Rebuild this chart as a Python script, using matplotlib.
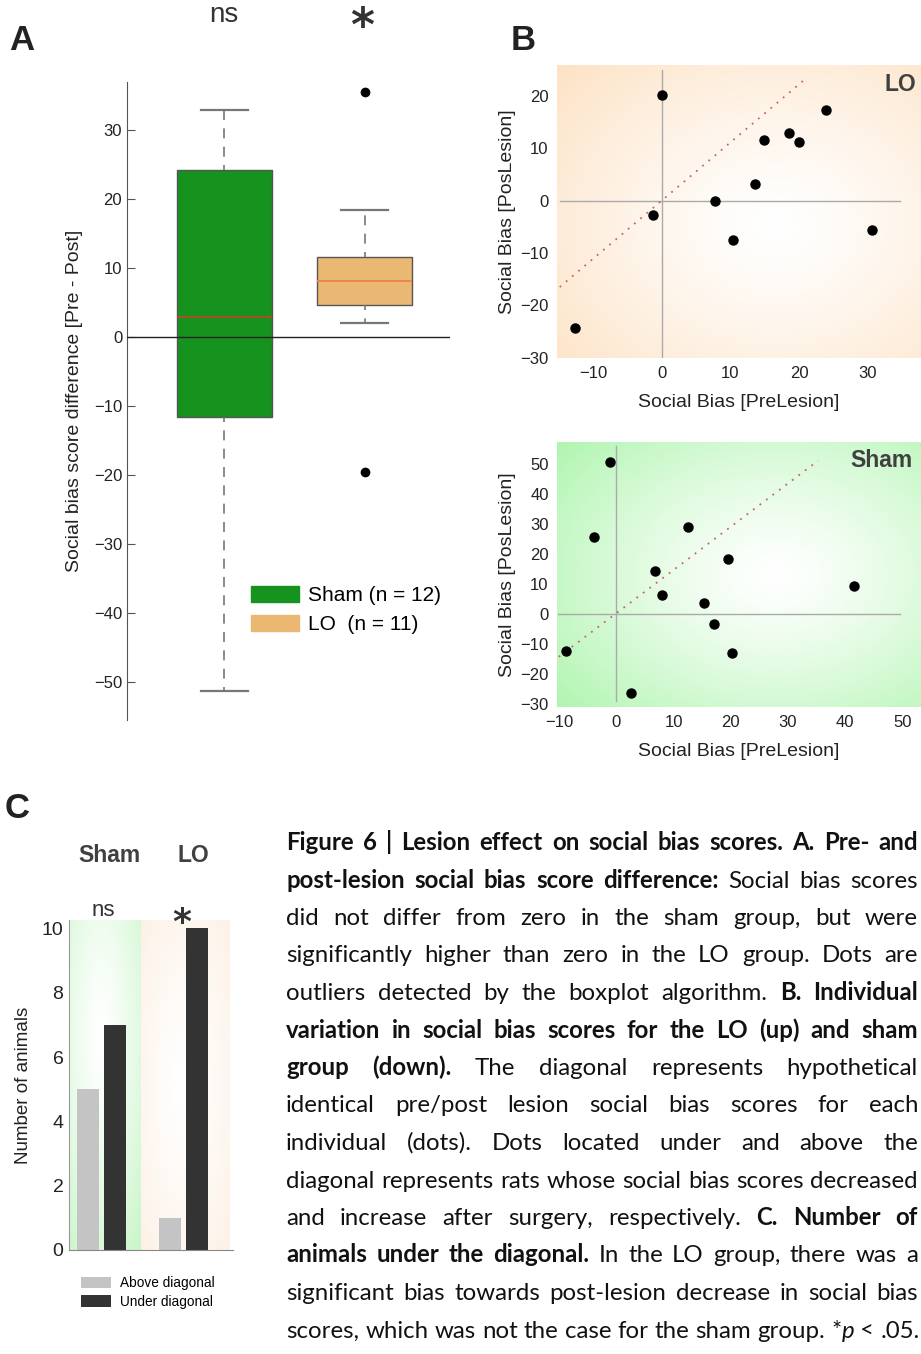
import matplotlib
matplotlib.use("Agg")
import matplotlib.pyplot as plt
import numpy as np
from matplotlib.patches import Patch

# ---------------- data ----------------
groups = ["Sham", "LO"]
legend_labels = ["Sham (n = 12)", "LO  (n = 11)"]
sig_marks = ["ns", "*"]

# A: pre - post difference, box statistics
box_med = [2.9, 8.1]
box_q1 = [-11.5, 4.7]
box_q3 = [24.3, 11.6]
box_whislo = [-51.3, 2.0]
box_whishi = [32.9, 18.4]
box_fliers = [[], [35.5, -19.5]]

# B: individual scores
lo_pre = [0.0, 24.0, 18.5, 20.0, 14.9, 13.6, 7.7, -1.3, 10.4, 30.7, -12.7]
lo_post = [20.1, 17.3, 12.9, 11.1, 11.5, 3.2, 0.0, -2.8, -7.5, -5.7, -24.3]
sham_pre = [-1.2, -4.0, 12.5, 19.5, 6.8, 8.0, 15.3, 41.5, 17.0, -8.9, 20.2, 2.6]
sham_post = [50.8, 25.6, 29.1, 18.3, 14.2, 6.4, 3.7, 9.3, -3.3, -12.3, -13.0, -26.3]
lo_diag_x = [-14.9, 20.9]
lo_diag_y = [-16.5, 23.2]
sham_diag_x = [-10.1, 35.3]
sham_diag_y = [-14.2, 51.1]

# C: counts
above_diag = [5, 1]
under_diag = [7, 10]

caption = [
    [("Figure 6 | Lesion effect on social bias scores. A. Pre- and", "bold")],
    [("post-lesion social bias score difference:", "bold"), (" Social bias scores", "normal")],
    [("did not differ from zero in the sham group, but were", "normal")],
    [("significantly higher than zero in the LO group. Dots are", "normal")],
    [("outliers detected by the boxplot algorithm.", "normal"), (" B. Individual", "bold")],
    [("variation in social bias scores for the LO (up) and sham", "bold")],
    [("group (down).", "bold"), (" The diagonal represents hypothetical", "normal")],
    [("identical pre/post lesion social bias scores for each", "normal")],
    [("individual (dots). Dots located under and above the", "normal")],
    [("diagonal represents rats whose social bias scores decreased", "normal")],
    [("and increase after surgery, respectively.", "normal"), (" C. Number of", "bold")],
    [("animals under the diagonal.", "bold"), (" In the LO group, there was a", "normal")],
    [("significant bias towards post-lesion decrease in social bias", "normal")],
    [("scores, which was not the case for the sham group. *", "normal"), ("p", "italic"), (" < .05.", "normal")],
]

# ---------------- style ----------------
W, H = 921, 1354
plt.rcParams["font.family"] = ["Liberation Sans", "DejaVu Sans"]
GREEN = "#16921f"
ORANGE = "#ebb874"
TXT = "#333333"

fig = plt.figure(figsize=(W / 100, H / 100), dpi=100)


def px_axes(x0, y0, x1, y1):
    return fig.add_axes([x0 / W, 1 - y1 / H, (x1 - x0) / W, (y1 - y0) / H])


def ftext(x, y, s, **kw):
    return fig.text(x / W, 1 - y / H, s, **kw)


def radial_bg(ax, edge, cx, cy, extent, transform=None, power=1.3):
    n = 200
    yy, xx = np.mgrid[0:1:n * 1j, 0:1:n * 1j]
    d = np.sqrt((xx - cx) ** 2 + (yy - cy) ** 2)
    d = np.clip(d / d.max(), 0, 1) ** power
    edge = np.array(matplotlib.colors.to_rgb(edge))
    img = (1 - d)[..., None] * np.ones(3) + d[..., None] * edge
    kw = dict(extent=extent, origin="lower", aspect="auto", zorder=0,
              interpolation="bilinear")
    if transform is not None:
        kw["transform"] = transform
    ax.imshow(img, **kw)


# ---------------- panel A ----------------
axA = px_axes(127, 82, 450, 720)
stats = []
for i in range(2):
    stats.append(dict(med=box_med[i], q1=box_q1[i], q3=box_q3[i],
                      whislo=box_whislo[i], whishi=box_whishi[i],
                      fliers=box_fliers[i]))
bp = axA.bxp(stats, positions=[1, 2], widths=0.68, capwidths=0.34,
             patch_artist=True, showfliers=True,
             boxprops=dict(edgecolor="#555555", linewidth=1),
             whiskerprops=dict(color="#777777", linestyle=(3, (6, 5)), linewidth=1.2),
             capprops=dict(color="#777777", linewidth=1.6),
             flierprops=dict(marker="o", markerfacecolor="black",
                             markeredgecolor="black", markersize=6))
for patch, fc in zip(bp["boxes"], [GREEN, ORANGE]):
    patch.set_facecolor(fc)
for med, mc in zip(bp["medians"], ["#c0442a", "#f0804a"]):
    med.set_color(mc)
    med.set_linewidth(1.3)
axA.axhline(0, color="#222222", lw=1, zorder=5)
axA.set_xlim(0.304, 2.61)
axA.set_ylim(-55.5, 37)
axA.set_yticks(np.arange(-50, 31, 10))
axA.set_xticks([])
for s in ["top", "right", "bottom"]:
    axA.spines[s].set_visible(False)
axA.spines["left"].set_color("#555555")
axA.tick_params(axis="y", direction="in", length=6, labelsize=12,
                colors="#555555", labelcolor="#222222")
axA.set_ylabel("Social bias score difference [Pre - Post]", fontsize=14,
               color="#222222", labelpad=8)
axA.legend([Patch(facecolor=GREEN, edgecolor=GREEN),
            Patch(facecolor=ORANGE, edgecolor=ORANGE)], legend_labels,
           loc="upper left", bbox_to_anchor=(251 / W, 1 - 586 / H),
           bbox_transform=fig.transFigure, frameon=False, fontsize=15,
           handlelength=2.3, handleheight=0.82, handletextpad=0.45,
           labelspacing=0.45, borderpad=0, borderaxespad=0)
ftext(224, 15, sig_marks[0], fontsize=20, color=TXT, ha="center", va="center")
ftext(362, 28, sig_marks[1], fontsize=33, fontweight="bold", color=TXT,
      ha="center", va="center", family="DejaVu Sans")
ftext(22, 40, "A", fontsize=25, fontweight="bold", color="#222222",
      ha="center", va="center")

# ---------------- panel B ----------------
def scatter_panel(box, pre, post, dx, dy, xlim, ylim, xt, yt, hx, vy,
                  edge, name, name_xy, cx, cy):
    ax = px_axes(*box)
    radial_bg(ax, edge, cx, cy, (0, 1, 0, 1), transform=ax.transAxes)
    ax.plot(hx, [0, 0], color="#aaaaaa", lw=1, zorder=1)
    ax.plot([0, 0], vy, color="#aaaaaa", lw=1, zorder=1)
    ax.plot(dx, dy, color="#c86464", lw=1.3, linestyle=(0, (1, 3.5)), zorder=2)
    ax.plot(pre, post, "o", color="black", markersize=6.5, zorder=3)
    ax.set_xlim(*xlim)
    ax.set_ylim(*ylim)
    ax.set_xticks(xt)
    ax.set_yticks(yt)
    for s in ax.spines.values():
        s.set_visible(False)
    ax.tick_params(length=0, labelsize=12, labelcolor="#222222", pad=6)
    ax.set_xlabel("Social Bias [PreLesion]", fontsize=14, color="#222222",
                  labelpad=9)
    ax.set_ylabel("Social Bias [PosLesion]", fontsize=14, color="#222222",
                  labelpad=3)
    ax.text(name_xy[0], name_xy[1], name, transform=ax.transAxes, fontsize=16.5,
            fontweight="bold", color="#404040", ha="right", va="center")
    return ax


scatter_panel((557, 65, 921, 358), lo_pre, lo_post, lo_diag_x, lo_diag_y,
              (-15.3, 37.8), (-30.06, 25.9), [-10, 0, 10, 20, 30],
              [-30, -20, -10, 0, 10, 20], [-14.9, 34.8], [-30, 25],
              "#fde2c4", "LO", (0.986, 0.932), 0.6, 0.45)
scatter_panel((557, 442, 921, 707), sham_pre, sham_post, sham_diag_x, sham_diag_y,
              (-10.4, 53.3), (-30.9, 57.3), [-10, 0, 10, 20, 30, 40, 50],
              [-30, -20, -10, 0, 10, 20, 30, 40, 50], [-10.3, 49.6], [-29, 56],
              "#b0f5b0", "Sham", (0.976, 0.932), 0.6, 0.5)
ftext(523, 40, "B", fontsize=25, fontweight="bold", color="#222222",
      ha="center", va="center")

# ---------------- panel C ----------------
axC = px_axes(69, 920, 233, 1250)
x = np.arange(len(groups))
radial_bg(axC, "#c8f5c8", 0.45, 0.65, (-0.40, 0.476, 0, 10.26))
radial_bg(axC, "#fdf1e6", 0.5, 0.5, (0.476, 1.56, 0, 10.26))
axC.bar(x - 0.165, above_diag, width=0.27, color="#c4c4c4", zorder=2)
axC.bar(x + 0.165, under_diag, width=0.27, color="#333333", zorder=2)
axC.set_xlim(-0.40, 1.6)
axC.set_ylim(0, 10.26)
axC.set_yticks(np.arange(0, 11, 2))
axC.set_xticks([])
for s in ["top", "right"]:
    axC.spines[s].set_visible(False)
axC.spines["left"].set_color("#999999")
axC.spines["bottom"].set_color("#888888")
axC.tick_params(axis="y", length=0, labelsize=14, labelcolor="#222222", pad=4)
axC.set_ylabel("Number of animals", fontsize=13.5, color="#222222", labelpad=7)
axC.legend([Patch(facecolor="#c4c4c4"), Patch(facecolor="#333333")],
           ["Above diagonal", "Under diagonal"], loc="upper left",
           bbox_to_anchor=(81 / W, 1 - 1276 / H), bbox_transform=fig.transFigure,
           frameon=False, fontsize=9.8, handlelength=2.2, handleheight=0.9,
           handletextpad=0.7, labelspacing=0.35, borderpad=0, borderaxespad=0)
for gx, name, mark, mx in zip([109, 193], groups, sig_marks, [103, 182]):
    ftext(gx, 856, name, fontsize=16.5, fontweight="bold", color="#404040",
          ha="center", va="center")
    if mark == "*":
        ftext(mx, 923, mark, fontsize=26, fontweight="bold", color=TXT,
              ha="center", va="center", family="DejaVu Sans")
    else:
        ftext(mx, 910, mark, fontsize=16, color=TXT, ha="center", va="center")
ftext(17, 808, "C", fontsize=25, fontweight="bold", color="#222222",
      ha="center", va="center")

# ---------------- caption (justified) ----------------
renderer = fig.canvas.get_renderer()
CAP_FONT = ["Lato", "DejaVu Sans"]
LEFT, RIGHT, BASE0, LEAD = 286, 918, 850, 37.5


def style_kw(st):
    return dict(fontweight="bold" if st == "bold" else "normal",
                fontstyle="italic" if st == "italic" else "normal")


def split_words(line):
    words = []
    for text, st in line:
        parts = text.split(" ")
        for j, p in enumerate(parts):
            if j == 0 and p != "" and words:
                words[-1].append((p, st))
            elif p != "":
                words.append([(p, st)])
    return words


def measure(s, st, fs):
    t = fig.text(0, 0, s, fontsize=fs, family=CAP_FONT, **style_kw(st))
    w = t.get_window_extent(renderer).width
    t.remove()
    return w


base_fs = 15.0
space_w = measure("a a", "normal", base_fs) - measure("aa", "normal", base_fs)
ratio = 10.0
for line in caption:
    words = split_words(line)
    nat = sum(measure(p, st, base_fs) for w in words for p, st in w)
    nat += space_w * (len(words) - 1)
    ratio = min(ratio, (RIGHT - LEFT) / nat)
cap_fs = base_fs * ratio
space_w *= ratio

for i, line in enumerate(caption):
    words = split_words(line)
    widths = [[measure(p, st, cap_fs) for p, st in w] for w in words]
    total = sum(sum(ws) for ws in widths)
    if i < len(caption) - 1:
        gap = (RIGHT - LEFT - total) / (len(words) - 1)
    else:
        gap = space_w
    xpos = LEFT
    y = BASE0 + i * LEAD
    for w, ws in zip(words, widths):
        for (p, st), pw in zip(w, ws):
            ftext(xpos, y, p, fontsize=cap_fs, family=CAP_FONT, color="#111111",
                  va="baseline", ha="left", **style_kw(st))
            xpos += pw
        xpos += gap

fig.savefig("out.png", dpi=100)
